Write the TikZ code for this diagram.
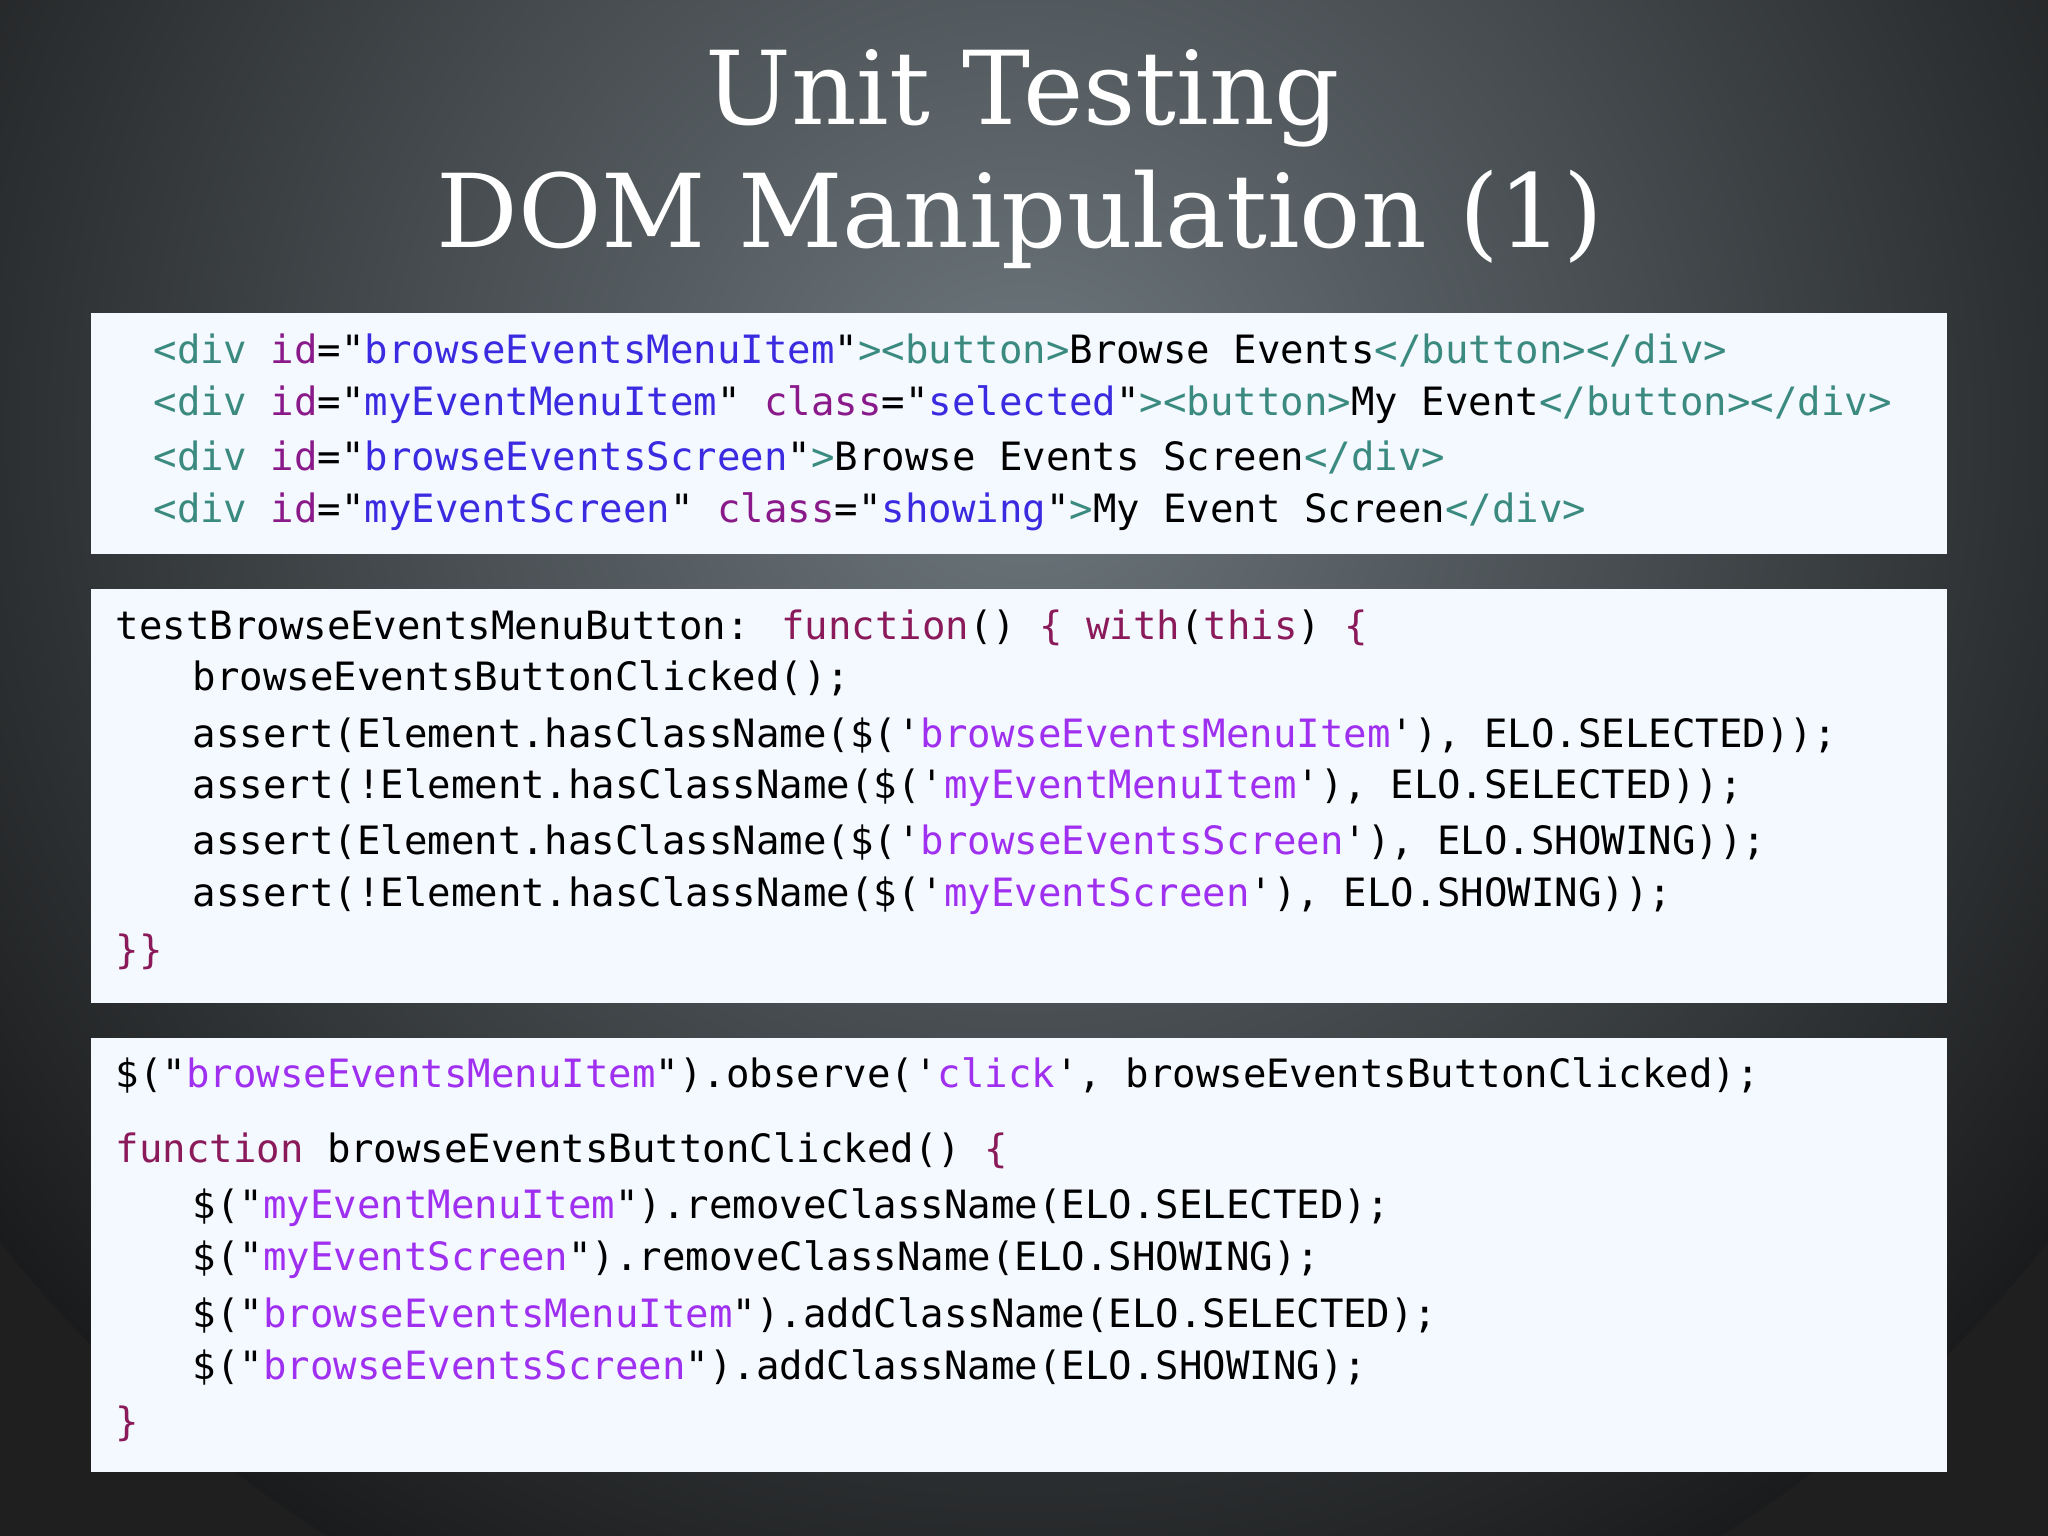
\documentclass[tikz,border=0pt]{standalone}
\usepackage{fontspec}
\newfontfamily\codefont{DejaVu Sans Mono}
\newfontfamily\titlefont{DejaVu Serif}
\definecolor{tagc}{HTML}{3A8A80}
\definecolor{attc}{HTML}{8A1A8A}
\definecolor{strc}{HTML}{3A2AE0}
\definecolor{kwc}{HTML}{8A1A5A}
\definecolor{pstr}{HTML}{A030F0}
\definecolor{boxc}{HTML}{F4F8FF}
\newcommand{\tg}[1]{\textcolor{tagc}{#1}}
\newcommand{\at}[1]{\textcolor{attc}{#1}}
\newcommand{\st}[1]{\textcolor{strc}{#1}}
\newcommand{\kw}[1]{\textcolor{kwc}{#1}}
\newcommand{\ps}[1]{\textcolor{pstr}{#1}}
\begin{document}
\begin{tikzpicture}[x=0.01306cm,y=-0.01306cm,
  code/.style={anchor=base west,inner sep=0pt,font=\codefont\fontsize{11.1}{13}\selectfont},
  ttl/.style={inner sep=0pt,text=white,font=\titlefont\fontsize{29}{32}\selectfont},
  panel/.style={fill=boxc,draw=none}]
\useasboundingbox (0,0) rectangle (1568,1176);
\begin{scope}
\clip (0,0) rectangle (1568,1176);
\fill[black!88] (0,0) rectangle (1568,1176);
\shade[inner color={rgb,255:red,110;green,120;blue,126},outer color={rgb,255:red,26;green,27;blue,28}] (784,330) circle (1000);
\end{scope}
\node[ttl] (t1) at (783,75) {Unit Testing};
\node[ttl] (t2) at (781,168) {DOM Manipulation (1)};
\fill[panel] (70,240) rectangle (1491,424);
\fill[panel] (70,451) rectangle (1491,768);
\fill[panel] (70,795) rectangle (1491,1127);
% box 1
\node[code] (a1) at (117,278) {\tg{<div} \at{id}="\st{browseEventsMenuItem}"\tg{><button>}Browse Events\tg{</button></div>}};
\node[code] (a2) at (117,318) {\tg{<div} \at{id}="\st{myEventMenuItem}" \at{class}="\st{selected}"\tg{><button>}My Event\tg{</button></div>}};
\node[code] (a3) at (117,360) {\tg{<div} \at{id}="\st{browseEventsScreen}"\tg{>}Browse Events Screen\tg{</div>}};
\node[code] (a4) at (117,400) {\tg{<div} \at{id}="\st{myEventScreen}" \at{class}="\st{showing}"\tg{>}My Event Screen\tg{</div>}};
% box 2
\node[code] (b1) at (88,490) {testBrowseEventsMenuButton: \kw{function}() \kw{\{} \kw{with}(\kw{this}) \kw{\{}};
\node[code] (b2) at (147,529) {browseEventsButtonClicked();};
\node[code] (b3) at (147,572) {assert(Element.hasClassName(\$('\ps{browseEventsMenuItem}'), ELO.SELECTED));};
\node[code] (b4) at (147,611) {assert(!Element.hasClassName(\$('\ps{myEventMenuItem}'), ELO.SELECTED));};
\node[code] (b5) at (147,654) {assert(Element.hasClassName(\$('\ps{browseEventsScreen}'), ELO.SHOWING));};
\node[code] (b6) at (147,694) {assert(!Element.hasClassName(\$('\ps{myEventScreen}'), ELO.SHOWING));};
\node[code] (b7) at (88,738) {\kw{\}\}}};
% box 3
\node[code] (c1) at (88,833) {\$("\ps{browseEventsMenuItem}").observe('\ps{click}', browseEventsButtonClicked);};
\node[code] (c2) at (88,890) {\kw{function} browseEventsButtonClicked() \kw{\{}};
\node[code] (c3) at (147,933) {\$("\ps{myEventMenuItem}").removeClassName(ELO.SELECTED);};
\node[code] (c4) at (147,973) {\$("\ps{myEventScreen}").removeClassName(ELO.SHOWING);};
\node[code] (c5) at (147,1016) {\$("\ps{browseEventsMenuItem}").addClassName(ELO.SELECTED);};
\node[code] (c6) at (147,1056) {\$("\ps{browseEventsScreen}").addClassName(ELO.SHOWING);};
\node[code] (c7) at (88,1099) {\kw{\}}};
\end{tikzpicture}
\end{document}
